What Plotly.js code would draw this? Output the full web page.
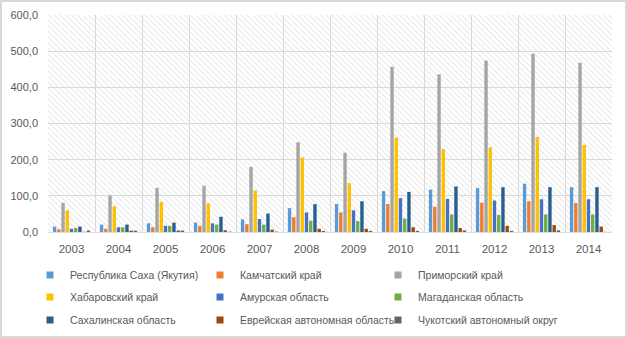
<!DOCTYPE html>
<html><head><meta charset="utf-8">
<script src="https://cdn.plot.ly/plotly-3.0.1.min.js"></script>
<style>
html,body{margin:0;padding:0;background:#fff;}
#wrap{width:627px;height:338px;box-sizing:border-box;border:2px solid #d9d9d9;position:relative;overflow:hidden;}
#chart{position:absolute;left:-2px;top:-2px;width:627px;height:338px;}
</style></head>
<body><div id="wrap"><div id="chart"></div></div>
<script>
const years = ['2003','2004','2005','2006','2007','2008','2009','2010','2011','2012','2013','2014'];
const regionNames = ['Республика Саха (Якутия)','Камчатский край','Приморский край','Хабаровский край','Амурская область','Магаданская область','Сахалинская область','Еврейская автономная область','Чукотский автономный округ'];
const saha       = [15, 20.5, 24, 26, 35, 66, 77.5, 113, 117, 122, 133.5, 124];
const kamchatka  = [7.5, 9, 13, 17, 21.5, 41, 54, 77.5, 70, 81, 85, 80];
const primorsky  = [81, 101, 122, 128, 180, 248, 219, 457, 436, 474, 493, 468];
const khabarovsk = [60, 71, 83, 79, 115, 206, 135, 261, 229, 234, 263, 241];
const amur       = [9, 13, 17, 24, 36, 54, 60, 93.5, 91.5, 87, 90.5, 90.5];
const magadan    = [11, 13, 17, 20.5, 20.5, 31, 30, 37, 48.5, 47, 48.5, 48.5];
const sakhalin   = [15, 20.5, 26, 42, 51, 77, 85, 111, 126, 124, 124, 124];
const jewish     = [0.5, 3.7, 4, 5, 6.5, 9, 9, 13, 11, 17, 19, 15];
const chukotka   = [4, 3.7, 4, 1, 1, 3, 3, 3, 4.5, 3, 4.5, 0.5];
const yTicks = [0, 100, 200, 300, 400, 500, 600];

const series = [saha, kamchatka, primorsky, khabarovsk, amur, magadan, sakhalin, jewish, chukotka];
const colors = ['#5B9BD5','#ED7D31','#A5A5A5','#FFC000','#4472C4','#70AD47','#255E91','#9E480E','#636363'];

const traces = series.map((vals, i) => ({
  type: 'bar', x: years, y: vals, name: regionNames[i],
  marker: {color: colors[i]}, showlegend: false, hoverinfo: 'x+y+name'
}));
// legend entries (one small square per region, as in the original)
const legendKeys = regionNames.map((n, i) => (i === 0 ? 'legend' : 'legend' + (i + 1)));
regionNames.forEach((n, i) => {
  traces.push({
    type: 'scatter', mode: 'markers', x: [null], y: [null], name: n,
    marker: {symbol: 'square', size: 7, color: colors[i]},
    showlegend: true, legend: legendKeys[i], hoverinfo: 'skip'
  });
});

const svg = "<svg xmlns='http://www.w3.org/2000/svg' width='564' height='217'><defs><pattern id='p' width='4' height='4' patternUnits='userSpaceOnUse' patternTransform='rotate(-45)'><line x1='0' y1='0' x2='0' y2='4' stroke='#dadada' stroke-width='1.3'/></pattern></defs><rect width='100%' height='100%' fill='url(#p)'/></svg>";
const bgImg = 'data:image/svg+xml;charset=utf-8,' + encodeURIComponent(svg);

const fontFam = '"Liberation Sans", Arial, sans-serif';
const colX = [-0.0319, 0.2695, 0.5851];
const rowY = [-0.198, -0.300, -0.406];

const layout = {
  width: 627, height: 338,
  margin: {l: 48, r: 15, t: 15, b: 106, autoexpand: false},
  paper_bgcolor: '#ffffff', plot_bgcolor: '#ffffff',
  separators: ', ',
  font: {family: fontFam, color: '#595959', size: 11},
  barmode: 'group', bargap: 0.19, bargroupgap: 0.2,
  showlegend: true,
  xaxis: {
    type: 'category', tickson: 'boundaries', showgrid: true, gridcolor: '#d9d9d9', gridwidth: 1,
    ticks: '', showline: true, linecolor: '#d9d9d9', linewidth: 1, ticklabelstandoff: 6,
    tickfont: {family: fontFam, size: 11.5, color: '#595959'}, zeroline: false
  },
  yaxis: {
    range: [0, 600], tickvals: yTicks, tickformat: '.1f', showgrid: true, gridcolor: '#d9d9d9',
    gridwidth: 1, zeroline: false, showline: false, ticks: '', ticklabelstandoff: 9,
    tickfont: {family: fontFam, size: 11, color: '#595959'}
  },
  images: [{source: bgImg, xref: 'paper', yref: 'paper', x: 0, y: 1, sizex: 1, sizey: 1,
            sizing: 'stretch', xanchor: 'left', yanchor: 'top', layer: 'below'}]
};
legendKeys.forEach((k, i) => {
  layout[k] = {
    orientation: 'h', xref: 'paper', yref: 'paper',
    x: colX[i % 3], y: rowY[Math.floor(i / 3)], xanchor: 'left', yanchor: 'middle',
    font: {family: fontFam, size: 10.5, color: '#595959'}, bgcolor: 'rgba(0,0,0,0)'
  };
});

Plotly.newPlot('chart', traces, layout, {displayModeBar: false, staticPlot: true});
</script></body></html>
